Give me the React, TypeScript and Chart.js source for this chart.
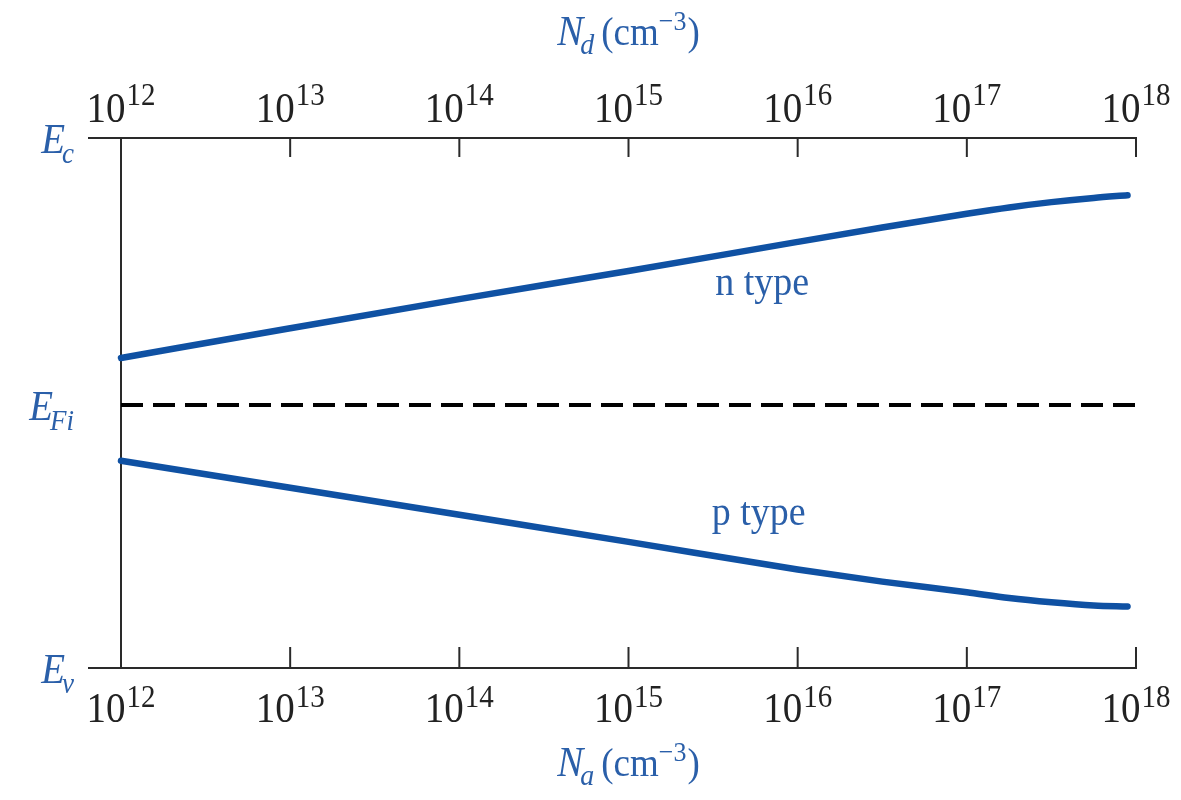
import React, { useEffect, useRef } from "react";
import { Chart, registerables } from "chart.js";

Chart.register(...registerables);

// ---- data ----
const decadeExponents = [12, 13, 14, 15, 16, 17, 18];
const logConcentration = [12, 13, 14, 15, 16, 16.5, 17, 17.25, 17.5, 17.75, 17.95];
const nTypeLevel = [0.585, 0.641, 0.696, 0.749, 0.804, 0.831, 0.857, 0.869, 0.879, 0.887, 0.892];
const pTypeLevel = [0.391, 0.34, 0.289, 0.238, 0.186, 0.163, 0.143, 0.132, 0.124, 0.118, 0.116];
const intrinsicLevel = 0.496;
const intrinsicSpan = [12, 18];
const energyLabels = [
  { main: "E", sub: "c", value: 1 },
  { main: "E", sub: "Fi", value: 0.496 },
  { main: "E", sub: "v", value: 0 },
];
const curveLabels = [
  { text: "n type", logN: 15.79, value: 0.704 },
  { text: "p type", logN: 15.77, value: 0.27 },
];

const BLUE_LINE = "#0f51a3";
const BLUE_TEXT = "#2a5fa9";
const INK = "#2a2a2a";
const SERIF = '"Liberation Serif", "DejaVu Serif", serif';
const SY = 1.08;

function drawText(ctx: CanvasRenderingContext2D, text: string, x: number, y: number, font: string, color: string) {
  ctx.save();
  ctx.font = font;
  ctx.fillStyle = color;
  ctx.textBaseline = "alphabetic";
  ctx.textAlign = "left";
  ctx.translate(x, y);
  ctx.scale(1, SY);
  ctx.fillText(text, 0, 0);
  ctx.restore();
}
function width(ctx: CanvasRenderingContext2D, text: string, font: string) {
  ctx.save();
  ctx.font = font;
  const w = ctx.measureText(text).width;
  ctx.restore();
  return w;
}

const decorPlugin = {
  id: "decor",
  beforeDatasetsDraw(chart: any) {
    const { ctx, chartArea, scales } = chart;
    const xb = scales.x;
    const xt = scales.xTop;
    const y = scales.y;
    const yTop = y.getPixelForValue(1);
    const yBot = y.getPixelForValue(0);
    const left = chartArea.left;
    const right = chartArea.right;
    ctx.save();
    ctx.strokeStyle = INK;
    ctx.lineWidth = 2;
    ctx.lineCap = "butt";
    const seg = (a: number, b: number, c: number, d: number) => {
      ctx.beginPath();
      ctx.moveTo(a, b);
      ctx.lineTo(c, d);
      ctx.stroke();
    };
    seg(left - 33, yTop, right + 1, yTop);
    seg(left - 33, yBot, right + 1, yBot);
    seg(left, yTop, left, yBot);
    decadeExponents.forEach((e) => {
      const pt = xt.getPixelForValue(Math.pow(10, e));
      seg(pt, yTop, pt, yTop + 19);
      const pb = xb.getPixelForValue(Math.pow(10, e));
      seg(pb, yBot, pb, yBot - 21);
    });
    ctx.restore();
  },
  afterDraw(chart: any) {
    const { ctx, scales } = chart;
    const xb = scales.x;
    const xt = scales.xTop;
    const y = scales.y;
    const yTop = y.getPixelForValue(1);
    const yBot = y.getPixelForValue(0);
    const mainF = `39px ${SERIF}`;
    const supF = `29px ${SERIF}`;
    // tick labels
    decadeExponents.forEach((e) => {
      const w1 = width(ctx, "10", mainF);
      const w2 = width(ctx, String(e), supF);
      const gap = 1;
      const tot = w1 + gap + w2;
      const pt = xt.getPixelForValue(Math.pow(10, e));
      let x0 = pt - tot / 2;
      drawText(ctx, "10", x0, yTop - 16, mainF, "#222");
      drawText(ctx, String(e), x0 + w1 + gap, yTop - 33, supF, "#222");
      const pb = xb.getPixelForValue(Math.pow(10, e));
      x0 = pb - tot / 2;
      drawText(ctx, "10", x0, yBot + 54, mainF, "#222");
      drawText(ctx, String(e), x0 + w1 + gap, yBot + 39, supF, "#222");
    });
    // energy labels
    const eF = `italic 39px ${SERIF}`;
    const sF = `italic 27px ${SERIF}`;
    energyLabels.forEach((l) => {
      const py = y.getPixelForValue(l.value);
      const ws = width(ctx, l.sub, sF);
      const wm = width(ctx, l.main, eF);
      const rightEdge = 74;
      drawText(ctx, l.sub, rightEdge - ws, py + 25, sF, BLUE_TEXT);
      drawText(ctx, l.main, rightEdge - ws - wm + 3, py + 15, eF, BLUE_TEXT);
    });
    // axis titles
    const titleCenter = xb.getPixelForValue(Math.pow(10, 15));
    const drawTitle = (sub: string, base: number) => {
      const nF = `italic 39px ${SERIF}`;
      const subF = `italic 28px ${SERIF}`;
      const uF = `37px ${SERIF}`;
      const supF2 = `26px ${SERIF}`;
      const parts = [
        { t: "N", f: nF, dy: 0, gap: 0 },
        { t: sub, f: subF, dy: 9, gap: -3 },
        { t: "(cm", f: uF, dy: 0, gap: 7 },
        { t: "\u22123", f: supF2, dy: -15, gap: 0 },
        { t: ")", f: uF, dy: 0, gap: 1 },
      ];
      let total = 0;
      parts.forEach((p) => (total += p.gap + width(ctx, p.t, p.f)));
      let x = titleCenter - total / 2;
      parts.forEach((p) => {
        x += p.gap;
        drawText(ctx, p.t, x, base + p.dy, p.f, BLUE_TEXT);
        x += width(ctx, p.t, p.f);
      });
    };
    drawTitle("d", 45);
    drawTitle("a", 776);
    // curve labels
    const lF = `38px ${SERIF}`;
    curveLabels.forEach((c) => {
      const px = xb.getPixelForValue(Math.pow(10, c.logN));
      const py = y.getPixelForValue(c.value);
      const w = width(ctx, c.text, lF);
      drawText(ctx, c.text, px - w / 2, py, lF, BLUE_TEXT);
    });
  },
};

export default function App() {
  const ref = useRef<HTMLCanvasElement | null>(null);
  useEffect(() => {
    if (!ref.current) return;
    const toPts = (vals: number[]) => logConcentration.map((l, i) => ({ x: Math.pow(10, l), y: vals[i] }));
    const chart = new Chart(ref.current, {
      type: "line",
      data: {
        datasets: [
          {
            label: "n type",
            data: toPts(nTypeLevel),
            borderColor: BLUE_LINE,
            borderWidth: 6.5,
            pointRadius: 0,
            cubicInterpolationMode: "monotone",
            borderCapStyle: "round",
            clip: false,
          },
          {
            label: "p type",
            data: toPts(pTypeLevel),
            borderColor: BLUE_LINE,
            borderWidth: 6.5,
            pointRadius: 0,
            cubicInterpolationMode: "monotone",
            borderCapStyle: "round",
            clip: false,
          },
          {
            label: "E_Fi",
            data: intrinsicSpan.map((l) => ({ x: Math.pow(10, l), y: intrinsicLevel })),
            borderColor: "#000",
            borderWidth: 4,
            borderDash: [22, 10],
            pointRadius: 0,
            clip: false,
          },
        ],
      } as any,
      options: {
        animation: false,
        responsive: false,
        layout: { padding: { left: 121, right: 45, top: 138, bottom: 132 } },
        plugins: { legend: { display: false }, tooltip: { enabled: false } },
        scales: {
          x: { type: "logarithmic", position: "bottom", min: 1e12, max: 1e18, display: false },
          xTop: { type: "logarithmic", position: "top", min: 1e12, max: 1e18, display: false },
          y: { type: "linear", min: 0, max: 1, display: false },
        },
      } as any,
      plugins: [decorPlugin],
    });
    return () => chart.destroy();
  }, []);
  return (
    <div style={{ position: "absolute", left: 0, top: 0, width: 1181, height: 800, background: "#fff" }}>
      <canvas ref={ref} width={1181} height={800} style={{ display: "block" }} />
    </div>
  );
}
